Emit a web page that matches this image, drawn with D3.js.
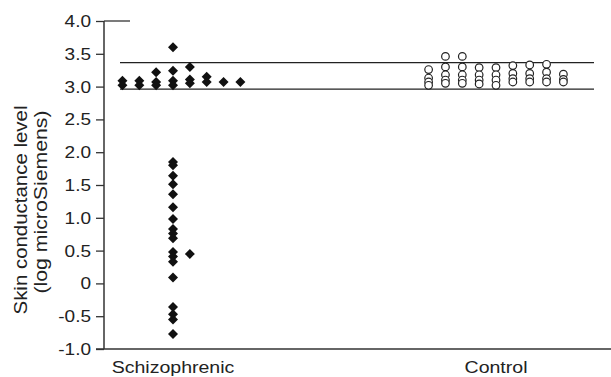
<!DOCTYPE html>
<html><head><meta charset="utf-8">
<script src="https://cdn.jsdelivr.net/npm/d3@7"></script>
<style>body{margin:0;background:#fff}svg{display:block}text{font-family:"Liberation Sans",Arial,sans-serif;fill:#222}</style>
</head><body><svg id="c" width="611" height="377"></svg>
<script>
const categories = ["Schizophrenic", "Control"];
const yTicks = [4.0, 3.5, 3.0, 2.5, 2.0, 1.5, 1.0, 0.5, 0, -0.5, -1.0];
const yTickLabels = ["4.0","3.5","3.0","2.5","2.0","1.5","1.0","0.5","0","-0.5","-1.0"];
const refLines = [3.364, 2.963];
// values grouped by dot column (beeswarm-style stacks)
const schizColumns = [
  [3.09, 3.02],
  [3.09, 3.02],
  [3.22, 3.07, 3.02],
  [3.60, 3.24, 3.09, 3.02, 1.85, 1.80, 1.64, 1.51, 1.36, 1.16, 0.98, 0.83, 0.76, 0.69, 0.48, 0.41, 0.33, 0.09, -0.36, -0.47, -0.55, -0.77],
  [3.30, 3.11, 3.05, 0.45],
  [3.15, 3.07],
  [3.07],
  [3.07]
];
const controlColumns = [
  [3.26, 3.13, 3.07, 3.02],
  [3.46, 3.30, 3.18, 3.10, 3.05],
  [3.46, 3.30, 3.18, 3.10, 3.05],
  [3.29, 3.18, 3.10, 3.04],
  [3.29, 3.18, 3.10, 3.02],
  [3.32, 3.20, 3.12, 3.07],
  [3.33, 3.20, 3.12, 3.07],
  [3.34, 3.22, 3.12, 3.07],
  [3.19, 3.11, 3.07]
];

const svg = d3.select("#c");
const y = d3.scaleLinear().domain([-1, 4]).range([349, 21]);
const x = d3.scalePoint().domain(categories).range([173, 496]);
const colStep = 16.85;
const axisX = 104;

// y axis
const yAxis = d3.axisLeft(y).tickValues(yTicks).tickFormat((d,i)=>yTickLabels[i]).tickSize(8).tickPadding(5);
const ga = svg.append("g").attr("transform", `translate(${axisX},0)`).call(yAxis);
ga.select(".domain").remove();
ga.selectAll(".tick line").attr("stroke", "#333").attr("stroke-width", 1.3);
ga.selectAll(".tick text").attr("font-size", 17).attr("fill", "#222")
  .attr("font-family", '"Liberation Sans",Arial,sans-serif')
  .attr("transform", `translate(-13,0) scale(1.12,1) translate(13,0)`);
svg.append("line").attr("x1", axisX).attr("x2", axisX).attr("y1", y(4)).attr("y2", y(-1))
  .attr("stroke", "#333").attr("stroke-width", 1.5);
svg.append("line").attr("x1", axisX).attr("x2", 130).attr("y1", y(4)).attr("y2", y(4))
  .attr("stroke", "#333").attr("stroke-width", 1.3);
// x axis line
svg.append("line").attr("x1", 96).attr("x2", 611).attr("y1", y(-1)).attr("y2", y(-1))
  .attr("stroke", "#333").attr("stroke-width", 1.5);

// category labels
categories.forEach(c => {
  svg.append("text").attr("transform", `translate(${x(c)},373) scale(1.15,1)`)
    .attr("text-anchor", "middle").attr("font-size", 17).text(c);
});

// y title
svg.append("text").attr("transform", "translate(27,210) rotate(-90)")
  .attr("text-anchor", "middle").attr("font-size", 18)
  .attr("textLength", 209).attr("lengthAdjust", "spacingAndGlyphs").text("Skin conductance level");
svg.append("text").attr("transform", "translate(47,202) rotate(-90)")
  .attr("text-anchor", "middle").attr("font-size", 18)
  .attr("textLength", 183).attr("lengthAdjust", "spacingAndGlyphs").text("(log microSiemens)");

// reference lines
svg.selectAll(".ref").data(refLines).enter().append("line")
  .attr("x1", 120).attr("x2", 594).attr("y1", d=>y(d)).attr("y2", d=>y(d))
  .attr("stroke", "#222").attr("stroke-width", 1.3);

// points
const schizPts = schizColumns.flatMap((col, i) => col.map(v => ({i, v})));
const ctrlPts = controlColumns.flatMap((col, i) => col.map(v => ({i, v})));
const diamond = d3.symbol().type(d3.symbolSquare).size(50);
svg.selectAll(".sz").data(schizPts).enter().append("path")
  .attr("d", diamond)
  .attr("transform", d => `translate(${x("Schizophrenic") + (d.i - 3) * colStep},${y(d.v)}) rotate(45)`)
  .attr("fill", "#111");
svg.selectAll(".ct").data(ctrlPts).enter().append("circle")
  .attr("cx", d => x("Control") + (d.i - 4) * colStep)
  .attr("cy", d => y(d.v)).attr("r", 3.8)
  .attr("fill", "#fff").attr("stroke", "#222").attr("stroke-width", 1.2);
</script></body></html>
